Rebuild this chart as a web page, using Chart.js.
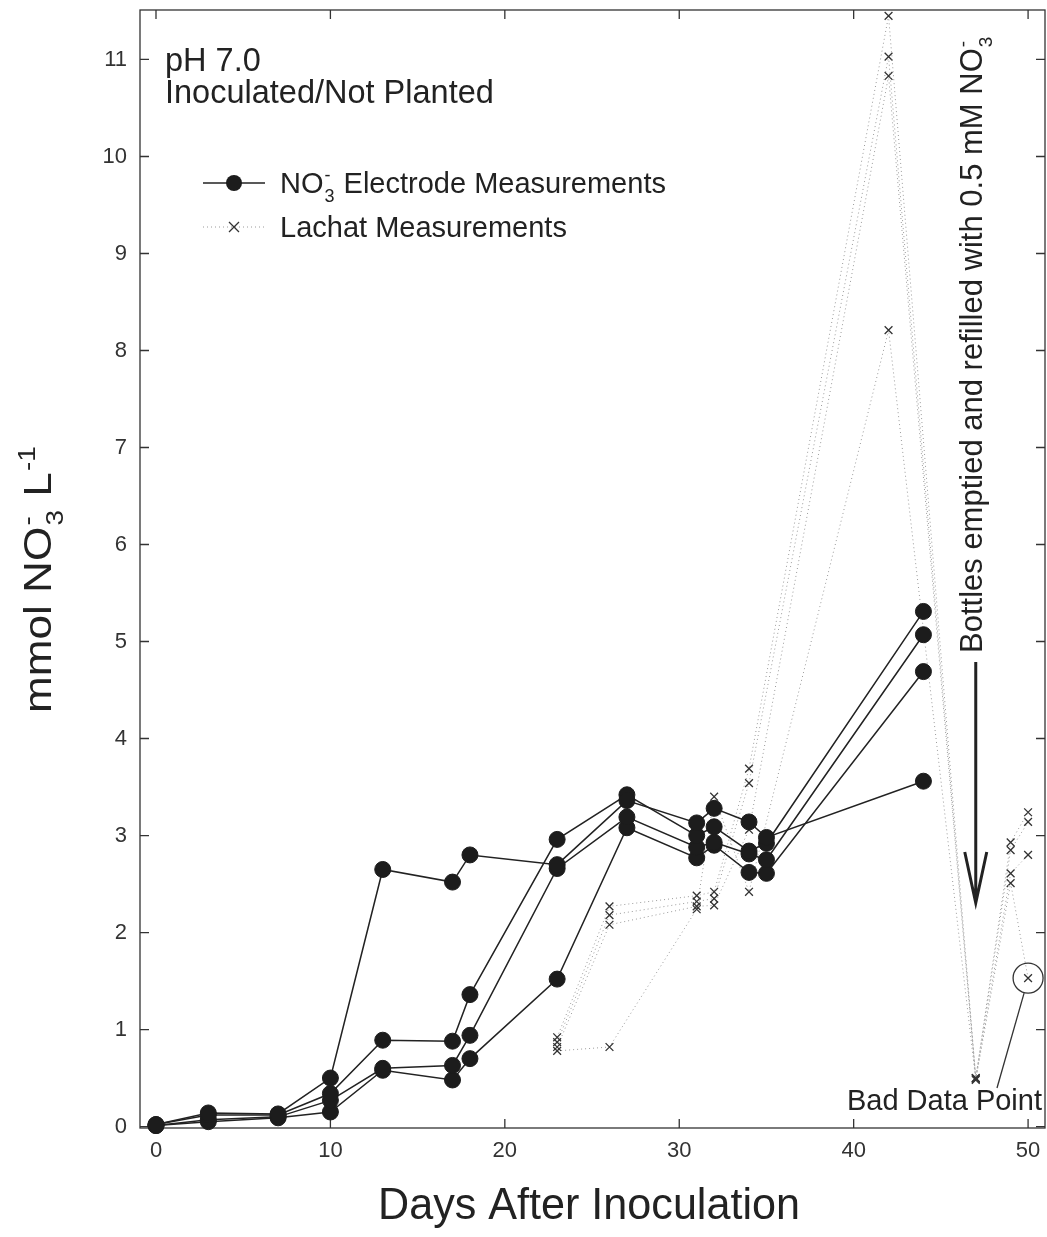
<!DOCTYPE html>
<html>
<head>
<meta charset="utf-8">
<script src="https://cdn.jsdelivr.net/npm/chart.js@4.4.1/dist/chart.umd.min.js"></script>
<style>
html, body { margin: 0; padding: 0; background: #fff; }
</style>
</head>
<body>
<canvas id="chart" width="1047" height="1237"></canvas>
<script>
// NO3- electrode measurements, four bottles
var elecDays = [0, 3, 7, 10, 13, 17, 18, 23, 27, 31, 32, 34, 35, 44];
var elecBottle1 = [0.02, 0.14, 0.13, 0.50, 2.65, 2.52, 2.80, 2.70, 3.36, 3.13, 3.28, 3.14, 2.98, 3.56];
var elecBottle2 = [0.02, 0.12, 0.12, 0.34, 0.89, 0.88, 1.36, 2.96, 3.42, 3.00, 3.09, 2.84, 2.92, 5.31];
var elecBottle3 = [0.01, 0.07, 0.10, 0.27, 0.60, 0.63, 0.94, 2.66, 3.19, 2.88, 2.93, 2.81, 2.75, 5.07];
var elecBottle4 = [0.01, 0.05, 0.09, 0.15, 0.58, 0.48, 0.70, 1.52, 3.08, 2.77, 2.90, 2.62, 2.61, 4.69];

// Lachat measurements, same four bottles
var lachatDays = [23, 26, 31, 32, 34, 42, 47, 49, 50];
var lachatBottle1 = [0.92, 2.27, 2.38, 2.42, 3.69, 11.45, 0.50, 2.93, 3.24];
var lachatBottle2 = [0.87, 2.18, 2.32, 2.35, 3.54, 11.03, 0.50, 2.85, 3.14];
var lachatBottle3 = [0.82, 2.08, 2.27, 2.28, 3.06, 10.83, 0.49, 2.61, 2.80];
var lachatBottle4 = [0.78, 0.82, 2.24, 3.40, 2.42, 8.21, 0.48, 2.51, 1.53];

var xTicks = [0, 10, 20, 30, 40, 50];
var yTicks = [0, 1, 2, 3, 4, 5, 6, 7, 8, 9, 10, 11];

var badPoint = { day: 50, value: 1.53 };
var refillDay = 47;

var FONT = '"Liberation Sans", Arial, sans-serif';

function pts(days, vals) {
	return days.map(function (d, i) { return { x: d, y: vals[i] }; });
}

function elecSet(vals) {
	return {
		data: pts(elecDays, vals),
		showLine: true,
		borderColor: '#222',
		borderWidth: 1.5,
		pointRadius: 8,
		pointBackgroundColor: '#1c1c1c',
		pointBorderColor: '#1c1c1c',
		pointBorderWidth: 1,
		clip: false
	};
}

function lachatSet(vals) {
	return {
		data: pts(lachatDays, vals),
		showLine: true,
		borderColor: '#9a9a9a',
		borderWidth: 1,
		borderDash: [1, 3],
		pointStyle: 'crossRot',
		pointRadius: 5.5,
		pointBorderColor: '#333',
		pointBorderWidth: 1.3,
		clip: false
	};
}

// text with sub/superscripts: parts = [[text, 'sub'|'sup'|undefined], ...]
function richWidth(ctx, parts, size) {
	var w = 0, i = 0;
	while (i < parts.length) {
		var p = parts[i];
		if (p[1]) {
			ctx.font = Math.round(size * 0.62) + 'px ' + FONT;
			var ww = ctx.measureText(p[0]).width;
			if (parts[i + 1] && parts[i + 1][1] && parts[i + 1][1] !== p[1]) {
				ww = Math.max(ww, ctx.measureText(parts[i + 1][0]).width);
				i++;
			}
			w += ww + 2;
		} else {
			ctx.font = size + 'px ' + FONT;
			w += ctx.measureText(p[0]).width;
		}
		i++;
	}
	return w;
}

function drawRich(ctx, parts, x, y, size) {
	var i = 0;
	ctx.textBaseline = 'alphabetic';
	ctx.textAlign = 'left';
	while (i < parts.length) {
		var p = parts[i];
		if (p[1]) {
			ctx.font = Math.round(size * 0.62) + 'px ' + FONT;
			var ww = 0;
			var group = [p];
			if (parts[i + 1] && parts[i + 1][1] && parts[i + 1][1] !== p[1]) {
				group.push(parts[i + 1]);
				i++;
			}
			group.forEach(function (g) {
				var dy = g[1] === 'sub' ? size * 0.32 : -size * 0.42;
				ctx.fillText(g[0], x + 1, y + dy);
				ww = Math.max(ww, ctx.measureText(g[0]).width);
			});
			x += ww + 2;
		} else {
			ctx.font = size + 'px ' + FONT;
			ctx.fillText(p[0], x, y);
			x += ctx.measureText(p[0]).width;
		}
		i++;
	}
}

var framePlugin = {
	id: 'frame',
	beforeDatasetsDraw: function (chart) {
		var ctx = chart.ctx, a = chart.chartArea;
		var xs = chart.scales.x, ys = chart.scales.y;
		ctx.save();
		ctx.strokeStyle = '#333';
		ctx.lineWidth = 1.3;
		ctx.strokeRect(a.left, a.top, a.right - a.left, a.bottom - a.top);
		ctx.beginPath();
		xTicks.forEach(function (v) {
			var px = xs.getPixelForValue(v);
			ctx.moveTo(px, a.bottom); ctx.lineTo(px, a.bottom - 9);
			ctx.moveTo(px, a.top); ctx.lineTo(px, a.top + 9);
		});
		yTicks.forEach(function (v) {
			var py = ys.getPixelForValue(v);
			ctx.moveTo(a.left, py); ctx.lineTo(a.left + 9, py);
			ctx.moveTo(a.right, py); ctx.lineTo(a.right - 9, py);
		});
		ctx.stroke();
		ctx.restore();
	},
	afterDatasetsDraw: function (chart) {
		var ctx = chart.ctx, a = chart.chartArea;
		var xs = chart.scales.x, ys = chart.scales.y;
		ctx.save();
		ctx.fillStyle = '#222';

		// condition labels
		ctx.font = '32.5px ' + FONT;
		ctx.fillText('pH 7.0', 165, 71);
		ctx.fillText('Inoculated/Not Planted', 165, 103);

		// legend
		ctx.strokeStyle = '#222';
		ctx.lineWidth = 1.5;
		ctx.beginPath(); ctx.moveTo(203, 183); ctx.lineTo(265, 183); ctx.stroke();
		ctx.beginPath(); ctx.arc(234, 183, 8, 0, Math.PI * 2); ctx.fillStyle = '#1c1c1c'; ctx.fill();
		ctx.fillStyle = '#222';
		drawRich(ctx, [['NO'], ['3', 'sub'], ['-', 'sup'], [' Electrode Measurements']], 280, 193, 29);
		ctx.strokeStyle = '#9a9a9a';
		ctx.lineWidth = 1;
		ctx.setLineDash([1, 3]);
		ctx.beginPath(); ctx.moveTo(203, 227); ctx.lineTo(265, 227); ctx.stroke();
		ctx.setLineDash([]);
		ctx.strokeStyle = '#333';
		ctx.lineWidth = 1.3;
		ctx.beginPath();
		ctx.moveTo(229, 222); ctx.lineTo(239, 232);
		ctx.moveTo(239, 222); ctx.lineTo(229, 232);
		ctx.stroke();
		ctx.font = '29px ' + FONT;
		ctx.fillText('Lachat Measurements', 280, 237);

		// refill arrow and note
		var ax = xs.getPixelForValue(refillDay);
		ctx.strokeStyle = '#222';
		ctx.lineWidth = 3;
		ctx.beginPath();
		ctx.moveTo(ax, 662); ctx.lineTo(ax, 903);
		ctx.moveTo(ax - 11, 852); ctx.lineTo(ax, 903); ctx.lineTo(ax + 11, 852);
		ctx.stroke();
		ctx.save();
		ctx.translate(ax + 6, 653);
		ctx.rotate(-Math.PI / 2);
		drawRich(ctx, [['Bottles emptied and refilled with 0.5 mM NO'], ['3', 'sub'], ['-', 'sup']], 0, 0, 31);
		ctx.restore();

		// bad data point
		var bx = xs.getPixelForValue(badPoint.day), by = ys.getPixelForValue(badPoint.value);
		ctx.strokeStyle = '#333';
		ctx.lineWidth = 1.3;
		ctx.beginPath(); ctx.arc(bx, by, 15, 0, Math.PI * 2); ctx.stroke();
		ctx.beginPath(); ctx.moveTo(bx - 4, by + 15); ctx.lineTo(997, 1088); ctx.stroke();
		ctx.font = '29px ' + FONT;
		ctx.textAlign = 'right';
		ctx.fillText('Bad Data Point', 1042, 1110);

		// axis titles
		ctx.textAlign = 'center';
		ctx.font = '44px ' + FONT;
		var t = 'Days After Inoculation';
		var tw = ctx.measureText(t).width;
		ctx.save();
		ctx.translate(589, 1219);
		ctx.scale(422 / tw, 1);
		ctx.fillText(t, 0, 0);
		ctx.restore();

		var yParts = [['mmol NO'], ['3', 'sub'], ['-', 'sup'], [' L'], ['-1', 'sup']];
		var yw = richWidth(ctx, yParts, 38);
		ctx.save();
		ctx.translate(51, 579);
		ctx.rotate(-Math.PI / 2);
		ctx.scale(268 / yw, 1);
		drawRich(ctx, yParts, -yw / 2, 0, 38);
		ctx.restore();

		ctx.restore();
	}
};

new Chart(document.getElementById('chart').getContext('2d'), {
	type: 'scatter',
	data: {
		datasets: [
			elecSet(elecBottle1), elecSet(elecBottle2), elecSet(elecBottle3), elecSet(elecBottle4),
			lachatSet(lachatBottle1), lachatSet(lachatBottle2), lachatSet(lachatBottle3), lachatSet(lachatBottle4)
		]
	},
	options: {
		responsive: false,
		animation: false,
		layout: { autoPadding: false, padding: { top: 10, right: 2, left: 0, bottom: 0 } },
		plugins: {
			legend: { display: false },
			tooltip: { enabled: false }
		},
		scales: {
			x: {
				type: 'linear',
				min: -0.917,
				max: 50.97,
				grid: { display: false, drawTicks: false },
				border: { display: false },
				afterBuildTicks: function (s) { s.ticks = xTicks.map(function (v) { return { value: v }; }); },
				afterFit: function (s) { s.height = 109; s.paddingLeft = 0; s.paddingRight = 0; },
				ticks: { padding: 10, color: '#333', font: { family: FONT, size: 22 } }
			},
			y: {
				type: 'linear',
				min: -0.015,
				max: 11.51,
				grid: { display: false, drawTicks: false },
				border: { display: false },
				afterBuildTicks: function (s) { s.ticks = yTicks.map(function (v) { return { value: v }; }); },
				afterFit: function (s) { s.width = 140; s.paddingTop = 0; s.paddingBottom = 0; },
				ticks: { padding: 13, color: '#333', font: { family: FONT, size: 22 } }
			}
		}
	},
	plugins: [framePlugin]
});
</script>
</body>
</html>
